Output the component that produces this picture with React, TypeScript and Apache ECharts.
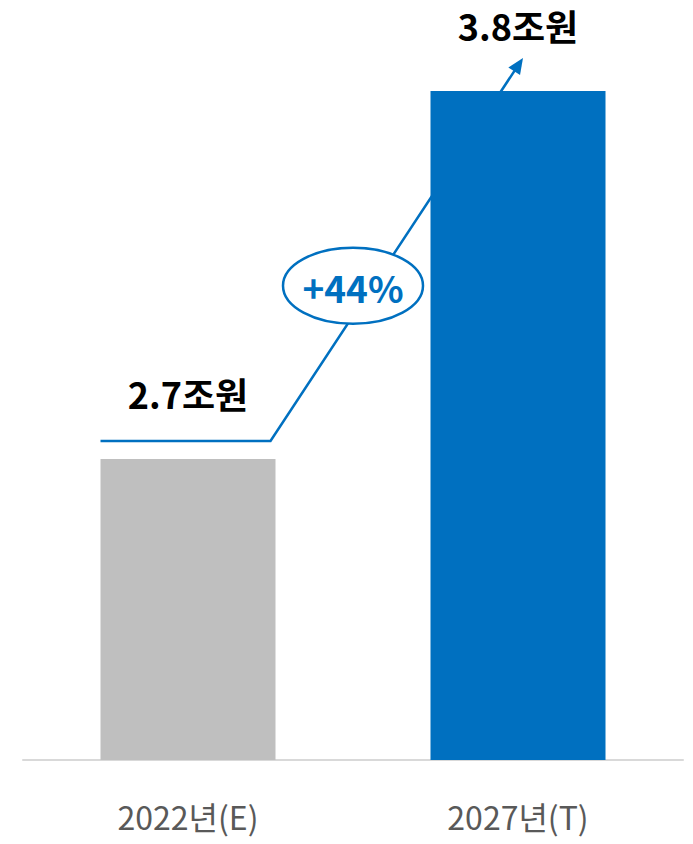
import React, { useEffect, useRef } from "react";
import * as echarts from "echarts";

const categories = ["2022년(E)", "2027년(T)"];
const values = [2.7, 3.8];
const valueLabels = ["2.7조원", "3.8조원"];
const barColors = ["#bfbfbf", "#0070c0"];
const growthLabel = "+44%";

const BLUE = "#0070c0";
const FONT = "'Noto Sans CJK KR', 'Noto Sans', sans-serif";

export default function App() {
  const ref = useRef<HTMLDivElement>(null);

  useEffect(() => {
    document.body.style.margin = "0";
    if (!ref.current) return;
    const chart = echarts.init(ref.current, undefined, { renderer: "svg" });
    const barWidth = 175;
    chart.setOption({
      animation: false,
      backgroundColor: "#ffffff",
      grid: { left: 23, right: 10, top: 24, bottom: 84 },
      xAxis: {
        type: "category",
        data: categories,
        axisLine: { show: true, lineStyle: { color: "#d9d9d9", width: 2 } },
        axisTick: { show: false },
        axisLabel: {
          margin: 40,
          fontSize: 32,
          color: "#595959",
          fontFamily: FONT,
        },
      },
      yAxis: {
        type: "value",
        min: 1.8,
        max: 4.0,
        show: false,
        splitLine: { show: false },
      },
      series: [
        {
          type: "bar",
          barWidth,
          data: values.map((v, i) => ({ value: v, itemStyle: { color: barColors[i] } })),
          label: {
            show: true,
            position: "top",
            distance: 48,
            formatter: (p: any) => valueLabels[p.dataIndex],
            fontSize: 36,
            fontWeight: "bold",
            color: "#000000",
            fontFamily: FONT,
          },
        },
      ],
    });

    const x0 = chart.convertToPixel({ xAxisIndex: 0 }, 0) as number;
    const x1 = chart.convertToPixel({ xAxisIndex: 0 }, 1) as number;
    const y0 = chart.convertToPixel({ yAxisIndex: 0 }, values[0]) as number;
    const y1 = chart.convertToPixel({ yAxisIndex: 0 }, values[1]) as number;
    const half = barWidth / 2;

    const start = [x0 - half, y0 - 18];
    const bend = [x0 + half - 5, y0 - 18];
    const tip = [x1 + 5, y1 - 33];
    const dx = tip[0] - bend[0];
    const dy = tip[1] - bend[1];
    const len = Math.sqrt(dx * dx + dy * dy);
    const ux = dx / len;
    const uy = dy / len;
    const nx = -uy;
    const ny = ux;
    const headLen = 16;
    const headW = 7;
    const base = [tip[0] - ux * headLen, tip[1] - uy * headLen];

    const cx = (x0 + half + x1 - half) / 2;
    const t = (cx - bend[0]) / dx;
    const cy = bend[1] + t * dy - 30;

    chart.setOption({
      graphic: [
        {
          type: "polyline",
          z: 1,
          shape: { points: [start, bend, [base[0] + ux * 2, base[1] + uy * 2]] },
          style: { stroke: BLUE, lineWidth: 2.5, fill: null },
        },
        {
          type: "polygon",
          z: 5,
          shape: {
            points: [
              tip,
              [base[0] + nx * headW, base[1] + ny * headW],
              [base[0] - nx * headW, base[1] - ny * headW],
            ],
          },
          style: { fill: BLUE },
        },
        {
          type: "ellipse",
          z: 5,
          shape: { cx, cy, rx: 70, ry: 38 },
          style: { fill: "#ffffff", stroke: BLUE, lineWidth: 2.5 },
        },
        {
          type: "text",
          z: 6,
          x: cx,
          y: cy + 1,
          style: {
            text: growthLabel,
            fill: BLUE,
            fontSize: 37,
            fontWeight: "bold",
            fontFamily: FONT,
            align: "center",
            verticalAlign: "middle",
          },
        },
      ],
    });

    return () => chart.dispose();
  }, []);

  return <div ref={ref} style={{ width: 693, height: 844 }} />;
}
